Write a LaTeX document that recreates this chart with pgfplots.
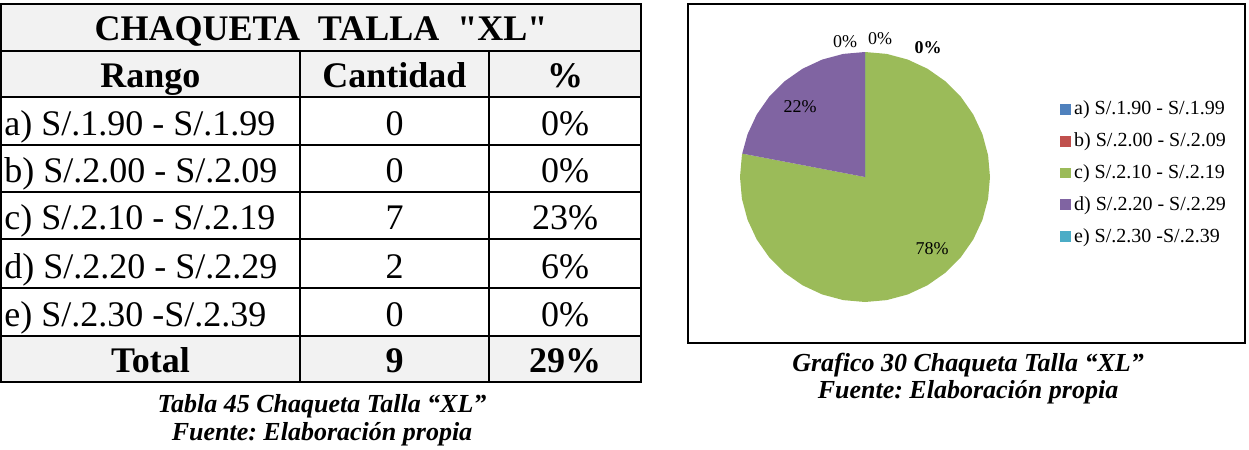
\documentclass[border=0pt]{standalone}
\usepackage{pgfplots}
\pgfplotsset{compat=1.18}
\usepgfplotslibrary{polar}
\usepackage{fontspec}
\setmainfont{Liberation Serif}[Ligatures=TeXOff]
\definecolor{pa}{HTML}{4F81BD}
\definecolor{pb}{HTML}{C0504D}
\definecolor{pc}{HTML}{9BBB59}
\definecolor{pd}{HTML}{8064A2}
\definecolor{pe}{HTML}{4BACC6}
\definecolor{hdr}{HTML}{F2F2F2}
\frenchspacing
\begin{document}
\begin{tikzpicture}
\begin{scope}[x=0.5pt,y=-0.5pt]
\useasboundingbox (0,0) rectangle (1249,450);
% ---- table ----
\fill[hdr] (1,4) rectangle (641,97);
\fill[hdr] (1,336) rectangle (641,382);
\foreach \y in {50.5,97,145,192,239,288,336} \draw[line width=1pt] (1,\y) -- (641,\y);
\draw[line width=1pt] (300,50.5) -- (300,382);
\draw[line width=1pt] (489,50.5) -- (489,382);
\draw[line width=1.2pt] (1,4) rectangle (641,382);
\begin{scope}[every node/.style={font=\fontsize{18pt}{20pt}\selectfont, inner sep=0pt, anchor=base}]
\node at (321,40.5) {\bfseries CHAQUETA\ \ TALLA\ \ "XL"};
\node at (150.5,87) {\bfseries Rango};
\node at (394.5,87) {\bfseries Cantidad};
\node at (565,87) {\bfseries \%};
\node[anchor=base west] at (4,135) {a) S/.1.90 - S/.1.99};
\node[anchor=base west] at (4,182) {b) S/.2.00 - S/.2.09};
\node[anchor=base west] at (4,229) {c) S/.2.10 - S/.2.19};
\node[anchor=base west] at (4,278) {d) S/.2.20 - S/.2.29};
\node[anchor=base west] at (4,326) {e) S/.2.30 -S/.2.39};
\node at (394.5,135) {0}; \node at (565,135) {0\%};
\node at (394.5,182) {0}; \node at (565,182) {0\%};
\node at (394.5,229) {7}; \node at (565,229) {23\%};
\node at (394.5,278) {2}; \node at (565,278) {6\%};
\node at (394.5,326) {0}; \node at (565,326) {0\%};
\node at (150.5,372) {\bfseries Total};
\node at (394.5,372) {\bfseries 9};
\node at (565,372) {\bfseries 29\%};
\end{scope}
\node[font=\fontsize{13pt}{15pt}\selectfont\bfseries\itshape] at (322,406) {Tabla 45 Chaqueta Talla “XL”};
\node[font=\fontsize{13pt}{15pt}\selectfont\bfseries\itshape] at (322,434) {Fuente: Elaboración propia};
% ---- chart frame ----
\draw[line width=0.8pt] (688,4) rectangle (1245,343);
\node[font=\fontsize{13pt}{15pt}\selectfont\bfseries\itshape] at (968,365) {Grafico 30 Chaqueta Talla “XL”};
\node[font=\fontsize{13pt}{15pt}\selectfont\bfseries\itshape] at (968,392) {Fuente: Elaboración propia};
\end{scope}
\begin{polaraxis}[
  at={(432.5pt,-88.5pt)}, anchor=center,
  width=125pt, height=125pt, scale only axis,
  hide axis, clip=false,
  ymin=0, ymax=1, xmin=0, xmax=360,
  legend style={at={(1.28,0.516)}, anchor=west, draw=none, fill=none,
    font=\fontsize{10pt}{12pt}\selectfont, row sep=4.5pt, inner sep=0pt,
    nodes={inner sep=1.5pt}},
  legend cell align=left,
  legend image code/.code={\fill[#1] (0pt,-2.7pt) rectangle (5.4pt,2.7pt);},
]
\addplot[fill=pa, draw=none] coordinates {(0,0) (90,1) (90,1)};
\addlegendentry{a) S/.1.90 - S/.1.99}
\addplot[fill=pb, draw=none] coordinates {(0,0) (90,1) (90,1)};
\addlegendentry{b) S/.2.00 - S/.2.09}
\addplot[fill=pc, draw=none] coordinates {
 (0,0) (90,1) (80,1) (70,1) (60,1) (50,1) (40,1) (30,1) (20,1) (10,1) (0,1)
 (350,1) (340,1) (330,1) (320,1) (310,1) (300,1) (290,1) (280,1) (270,1)
 (260,1) (250,1) (240,1) (230,1) (220,1) (210,1) (200,1) (190,1) (180,1)
 (170,1) (169.2,1) (0,0)};
\addlegendentry{c) S/.2.10 - S/.2.19}
\addplot[fill=pd, draw=none] coordinates {
 (0,0) (169.2,1) (160,1) (150,1) (140,1) (130,1) (120,1) (110,1) (100,1) (90,1) (0,0)};
\addlegendentry{d) S/.2.20 - S/.2.29}
\addplot[fill=pe, draw=none] coordinates {(0,0) (90,1) (90,1)};
\addlegendentry{e) S/.2.30 -S/.2.39}
\end{polaraxis}
\begin{scope}[x=0.5pt,y=-0.5pt, every node/.style={font=\fontsize{9pt}{11pt}\selectfont, inner sep=0pt}]
\node at (845,42) {0\%};
\node at (880,39) {0\%};
\node at (928,48) {\bfseries 0\%};
\node at (800,107) {22\%};
\node at (932,249) {78\%};
\end{scope}
\end{tikzpicture}
\end{document}
